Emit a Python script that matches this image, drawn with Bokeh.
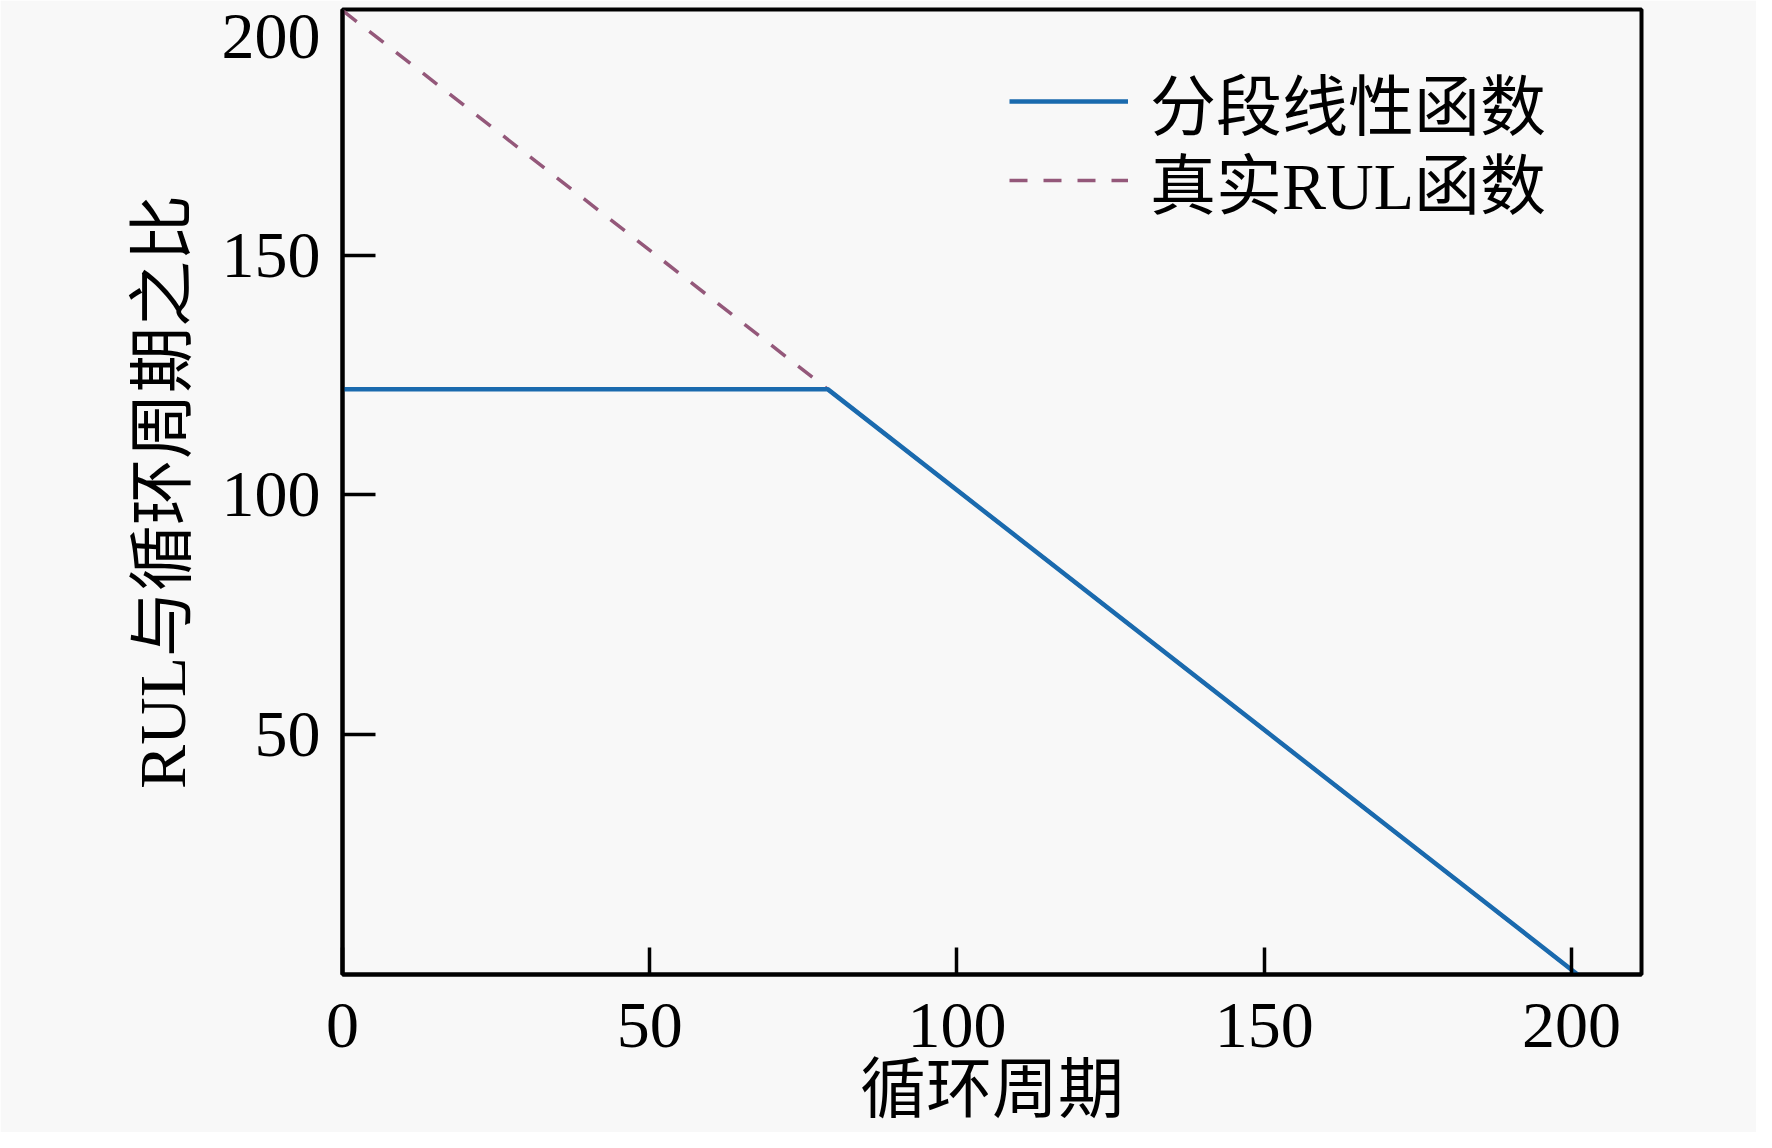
from bokeh.plotting import figure
from bokeh.models import Range1d, FixedTicker, Legend, LegendItem, LinearAxis
from bokeh.embed import file_html
from bokeh.resources import INLINE

# Data
true_x = [0, 201]
true_y = [201, 0]
piece_x = [0, 79, 201]
piece_y = [122, 122, 0]
x_ticks = [0, 50, 100, 150, 200]
y_ticks = [50, 100, 150, 200]
series_names = ["分段线性函数", "真实RUL函数"]
x_title = "循环周期"
y_title = "RUL与循环周期之比"

SERIF = "Liberation Serif, Noto Sans CJK SC"
BG = "#f8f8f8"

p = figure(width=1756, height=1132, output_backend="svg", toolbar_location=None,
           x_range=Range1d(0, 211.4), y_range=Range1d(0, 201.2),
           min_border_left=342, min_border_right=115, min_border_top=9, min_border_bottom=158)
p.background_fill_color = BG
p.border_fill_color = BG
p.outline_line_color = "black"
p.outline_line_width = 4
p.xgrid.visible = False
p.ygrid.visible = False


def style_axis(ax):
    ax.axis_line_width = 4
    ax.major_tick_line_width = 3.5
    ax.minor_tick_line_color = None
    ax.major_tick_out = 0
    ax.major_label_text_font = SERIF
    ax.major_label_text_font_size = "66px"
    ax.major_label_text_color = "black"
    ax.axis_label_text_font = SERIF
    ax.axis_label_text_font_size = "66px"
    ax.axis_label_text_font_style = "normal"
    ax.axis_label_text_color = "black"


xa = p.xaxis[0]
style_axis(xa)
xa.ticker = FixedTicker(ticks=x_ticks)
xa.major_tick_in = 27
xa.major_label_standoff = 29
xa.axis_label = x_title
xa.axis_label_standoff = 3

# inner y axis: line, tick marks and the 50/100/150 labels
ya = p.yaxis[0]
style_axis(ya)
ya.ticker = FixedTicker(ticks=[t for t in y_ticks if t < 200])
ya.major_tick_in = 33
ya.major_label_standoff = 22

# outer y axis: the top "200" label (drawn a little below the frame edge) and the title
top_label_pos = y_ticks[-1] - 4.5
yb = LinearAxis()
style_axis(yb)
yb.axis_line_color = None
yb.major_tick_line_color = None
yb.major_tick_in = 0
yb.ticker = FixedTicker(ticks=[top_label_pos])
yb.major_label_overrides = {top_label_pos: str(y_ticks[-1])}
yb.major_label_standoff = -102
yb.axis_label = y_title
yb.axis_label_standoff = 20
p.add_layout(yb, "left")

r_true = p.line(true_x, true_y, line_color="#94587a", line_width=3.5, line_dash="18 16")
r_piece = p.line(piece_x, piece_y, line_color="#1a6aae", line_width=4.5)


def make_legend(label, renderer, loc):
    lg = Legend(items=[LegendItem(label=label, renderers=[renderer])], location=loc)
    lg.label_text_font = SERIF
    lg.label_text_font_size = "66px"
    lg.label_text_color = "black"
    lg.glyph_width = 119
    lg.glyph_height = 100
    lg.label_height = 100
    lg.label_standoff = 22
    lg.spacing = 0
    lg.padding = 0
    lg.margin = 0
    lg.border_line_color = None
    lg.background_fill_alpha = 0
    return lg


p.add_layout(make_legend(series_names[0], r_piece, (667, 823)))
p.add_layout(make_legend(series_names[1], r_true, (667, 744)))

html = file_html(p, INLINE)
html = html.replace("<body>", '<body style="background:#f8f8f8">', 1)
open("out.html", "w").write(html)
